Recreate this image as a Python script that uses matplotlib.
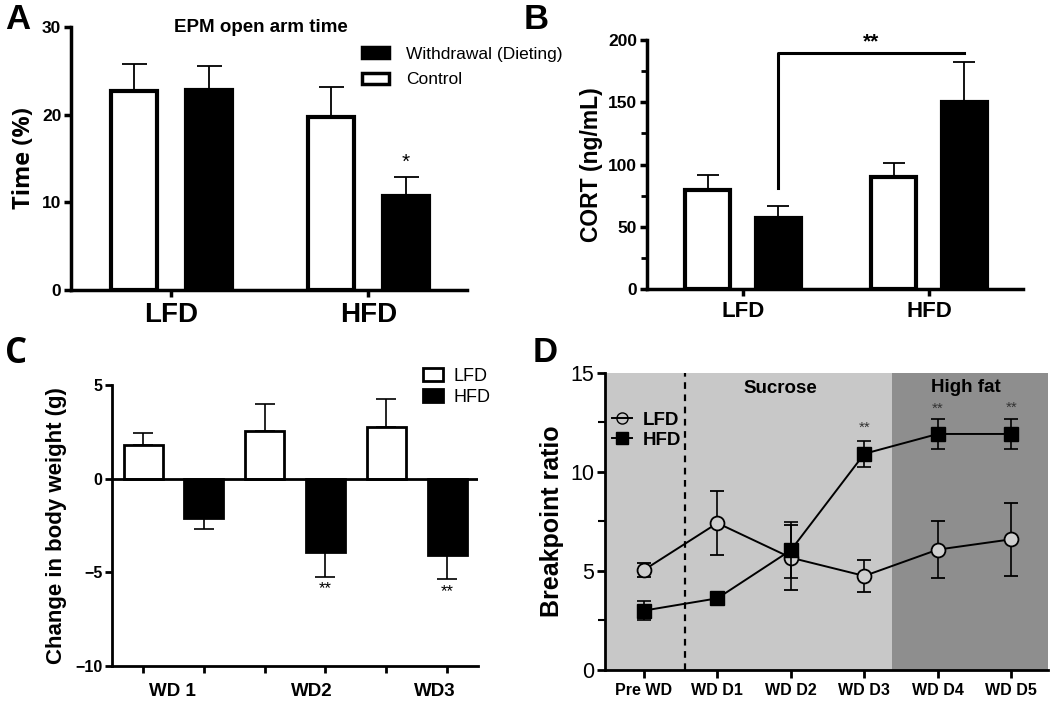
import numpy as np
import matplotlib
matplotlib.use("Agg")
import matplotlib.pyplot as plt
from matplotlib.patches import Patch
from matplotlib.lines import Line2D
from matplotlib.ticker import MultipleLocator

plt.rcParams['font.family'] = ['Liberation Sans', 'DejaVu Sans']

# --- data ---
groups_ab = ["LFD", "HFD"]

# A: EPM open arm time (%)
epm_control = [22.7, 19.7]
epm_control_sem = [3.1, 3.5]
epm_withdrawal = [22.8, 10.7]
epm_withdrawal_sem = [2.8, 2.2]

# B: CORT (ng/mL)
cort_control = [79.5, 90.1]
cort_control_sem = [12.2, 11.2]
cort_withdrawal = [56.8, 150.1]
cort_withdrawal_sem = [10.2, 32.3]

# C: change in body weight (g)
weeks = ["WD 1", "WD2", "WD3"]
bw_lfd = [1.77, 2.53, 2.74]
bw_lfd_sem = [0.65, 1.43, 1.52]
bw_hfd = [-2.1, -3.89, -4.1]
bw_hfd_sem = [0.6, 1.34, 1.27]

# D: breakpoint ratio
days = ["Pre WD", "WD D1", "WD D2", "WD D3", "WD D4", "WD D5"]
bp_lfd = [5.05, 7.42, 5.67, 4.75, 6.08, 6.6]
bp_lfd_sem = [0.33, 1.62, 1.65, 0.8, 1.42, 1.85]
bp_hfd = [3.0, 3.62, 6.05, 10.92, 11.92, 11.92]
bp_hfd_sem = [0.47, 0.15, 1.4, 0.66, 0.77, 0.77]

fig = plt.figure(figsize=(10.5, 7.02), dpi=100)

def style_axes(ax, lw=2):
    for s in ['top', 'right']:
        ax.spines[s].set_visible(False)
    for s in ['left', 'bottom']:
        ax.spines[s].set_linewidth(lw)
    ax.tick_params(direction='out', width=lw, length=5)

def panel_bars(ax, ctrl, ctrl_sem, wd, wd_sem, off, width, cap):
    x = np.arange(len(ctrl))
    ax.bar(x - off, ctrl, width, color='white', edgecolor='black', linewidth=3, zorder=3)
    ax.bar(x + off, wd, width, color='black', edgecolor='black', linewidth=3, zorder=3)
    ax.errorbar(x - off, ctrl, yerr=[np.zeros(len(ctrl)), ctrl_sem], fmt='none',
                ecolor='black', elinewidth=1.3, capsize=cap, capthick=1.3, zorder=2)
    ax.errorbar(x + off, wd, yerr=[np.zeros(len(wd)), wd_sem], fmt='none',
                ecolor='black', elinewidth=1.3, capsize=cap, capthick=1.3, zorder=2)
    return x

# ---------- A ----------
axA = fig.add_axes([0.0676, 0.5869, 0.377, 0.3746])
x = panel_bars(axA, epm_control, epm_control_sem, epm_withdrawal, epm_withdrawal_sem, 0.19, 0.235, 9)
style_axes(axA, 2.5)
axA.set_xlim(-0.51, 1.5)
axA.set_ylim(0, 30)
axA.set_yticks([0, 10, 20, 30])
axA.set_xticks(x)
axA.set_xticklabels(groups_ab, fontsize=20, fontweight='bold')
axA.tick_params(axis='y', labelsize=12.5, pad=2)
for t in axA.get_yticklabels():
    t.set_fontweight('bold')
axA.set_ylabel("Time (%)", fontsize=17, fontweight='bold', family='Open Sans', labelpad=4)
axA.text(0.48, 1.0, "EPM open arm time", transform=axA.transAxes, ha='center', va='center',
         fontsize=13.5, fontweight='bold')
axA.text(1.19, 13.5, "*", ha='center', va='bottom', fontsize=15)
axA.legend(handles=[Patch(facecolor='black', edgecolor='black', linewidth=2.5),
                    Patch(facecolor='white', edgecolor='black', linewidth=2.5)],
           labels=["Withdrawal (Dieting)", "Control"], loc='upper left',
           bbox_to_anchor=(0.735, 0.925), frameon=False, fontsize=12.5, borderpad=0,
           borderaxespad=0, handlelength=1.55, handleheight=0.6, handletextpad=1.0,
           labelspacing=0.6)

# ---------- B ----------
axB = fig.add_axes([0.6162, 0.5883, 0.3581, 0.3547])
x = panel_bars(axB, cort_control, cort_control_sem, cort_withdrawal, cort_withdrawal_sem, 0.19, 0.24, 8)
style_axes(axB, 2.5)
axB.set_xlim(-0.516, 1.505)
axB.set_ylim(0, 200)
axB.set_yticks([0, 50, 100, 150, 200])
axB.yaxis.set_minor_locator(MultipleLocator(25))
axB.tick_params(axis='y', which='minor', length=4, width=2)
axB.set_xticks(x)
axB.set_xticklabels(groups_ab, fontsize=16, fontweight='bold')
axB.tick_params(axis='y', labelsize=12.5, pad=2)
for t in axB.get_yticklabels():
    t.set_fontweight('bold')
axB.set_ylabel("CORT (ng/mL)", fontsize=16.5, fontweight='bold', labelpad=4)
axB.plot([0.19, 0.19, 1.19], [81, 189.6, 189.6], color='black', lw=2.2, clip_on=False)
axB.text(0.69, 191, "**", ha='center', va='bottom', fontsize=15, fontweight='bold')

# ---------- C ----------
axC = fig.add_axes([0.1067, 0.0513, 0.3486, 0.4003])
xc = np.arange(len(weeks)) * 2
axC.bar(xc, bw_lfd, 0.64, color='white', edgecolor='black', linewidth=2, zorder=3)
axC.bar(xc + 1, bw_hfd, 0.64, color='black', edgecolor='black', linewidth=2, zorder=3)
axC.errorbar(xc, bw_lfd, yerr=[np.zeros(3), bw_lfd_sem], fmt='none', ecolor='black',
             elinewidth=1.2, capsize=7.5, capthick=1.2, zorder=2)
axC.errorbar(xc + 1, bw_hfd, yerr=[bw_hfd_sem, np.zeros(3)], fmt='none', ecolor='black',
             elinewidth=1.2, capsize=7.5, capthick=1.2, zorder=2)
axC.axhline(0, color='black', lw=2, zorder=4)
style_axes(axC, 2)
axC.set_xlim(-0.51, 5.51)
axC.set_ylim(-10, 5)
axC.set_yticks([-10, -5, 0, 5])
axC.tick_params(axis='y', labelsize=11.5, pad=2)
for t in axC.get_yticklabels():
    t.set_fontweight('bold')
axC.set_xticks(range(6))
axC.set_xticklabels([])
axC.set_xticks([0.49, 2.78, 4.8], minor=True)
axC.set_xticklabels(weeks, minor=True, fontsize=13.5, fontweight='bold')
axC.tick_params(axis='x', which='minor', length=0, pad=12)
axC.set_ylabel("Change in body weight (g)", fontsize=16, fontweight='bold', labelpad=6)
for xi, (v, s) in zip(xc[1:] + 1, zip(bw_hfd[1:], bw_hfd_sem[1:])):
    axC.text(xi, v - s - 0.25, "**", ha='center', va='top', fontsize=12)
axC.legend(handles=[Patch(facecolor='white', edgecolor='black', linewidth=2),
                    Patch(facecolor='black', edgecolor='black', linewidth=2)],
           labels=["LFD", "HFD"], loc='upper left', bbox_to_anchor=(0.85, 1.06),
           frameon=False, fontsize=13, borderpad=0, borderaxespad=0, handlelength=1.1,
           handleheight=0.7, handletextpad=0.6, labelspacing=0.2)

# ---------- D ----------
axD = fig.add_axes([0.5762, 0.0456, 0.4219, 0.4231])
xd = np.arange(len(days))
axD.set_facecolor('#c8c8c8')
axD.axvspan(3.37, 5.6, color='#8e8e8e', zorder=0, lw=0)
axD.axvline(0.56, color='black', lw=1.6, ls=(0, (3, 2.5)), zorder=1)
axD.errorbar(xd, bp_lfd, yerr=bp_lfd_sem, fmt='-o', color='black', mfc='#cfcfcf',
             mec='black', mew=1.3, ms=10, lw=1.4, elinewidth=1.2, capsize=5,
             capthick=1.2, zorder=3)
axD.errorbar(xd, bp_hfd, yerr=bp_hfd_sem, fmt='-s', color='black', mfc='black',
             mec='black', ms=10, lw=1.4, elinewidth=1.2, capsize=5, capthick=1.2, zorder=4)
for s in ['top', 'right']:
    axD.spines[s].set_visible(False)
axD.spines['left'].set_linewidth(2)
axD.spines['bottom'].set_linewidth(2)
axD.tick_params(direction='out', width=2, length=6)
axD.set_xlim(-0.53, 5.5)
axD.set_ylim(0, 15)
axD.set_yticks([0, 5, 10, 15])
axD.yaxis.set_minor_locator(MultipleLocator(2.5))
axD.tick_params(axis='y', which='minor', length=5, width=1.5)
axD.tick_params(axis='y', labelsize=15.5, pad=2)
axD.set_xticks(xd)
axD.set_xticklabels(days, fontsize=11.5, fontweight='bold')
axD.set_ylabel("Breakpoint ratio", fontsize=18, fontweight='bold', labelpad=4)
axD.text(1.86, 14.2, "Sucrose", ha='center', va='center', fontsize=13.5, fontweight='bold')
axD.text(4.38, 14.25, "High fat", ha='center', va='center', fontsize=13.5, fontweight='bold')
for xi, yv in zip([3, 4, 5], [11.9, 12.85, 12.9]):
    axD.text(xi, yv, "**", ha='center', va='bottom', fontsize=11, color='#333333')
axD.legend(handles=[Line2D([], [], color='black', marker='o', mfc='none', mec='black', ms=8, lw=1.4),
                    Line2D([], [], color='black', marker='s', mfc='black', ms=8, lw=1.4)],
           labels=["LFD", "HFD"], loc='upper left', bbox_to_anchor=(0.015, 0.87),
           frameon=False, borderpad=0, borderaxespad=0, handlelength=1.1,
           handletextpad=0.55, labelspacing=0.15, prop={'weight': 'bold', 'size': 13.5})

# panel letters
for lbl, px, py, fam in [("A", 5, 3, 'Liberation Sans'), ("B", 524, 3, 'Liberation Sans'),
                         ("C", 5, 336, 'Open Sans'), ("D", 533, 336, 'Liberation Sans')]:
    fig.text(px / 1050, 1 - py / 702, lbl, ha='left', va='top', fontsize=25,
             fontweight='bold', family=fam)

fig.savefig("out.png", dpi=100)
